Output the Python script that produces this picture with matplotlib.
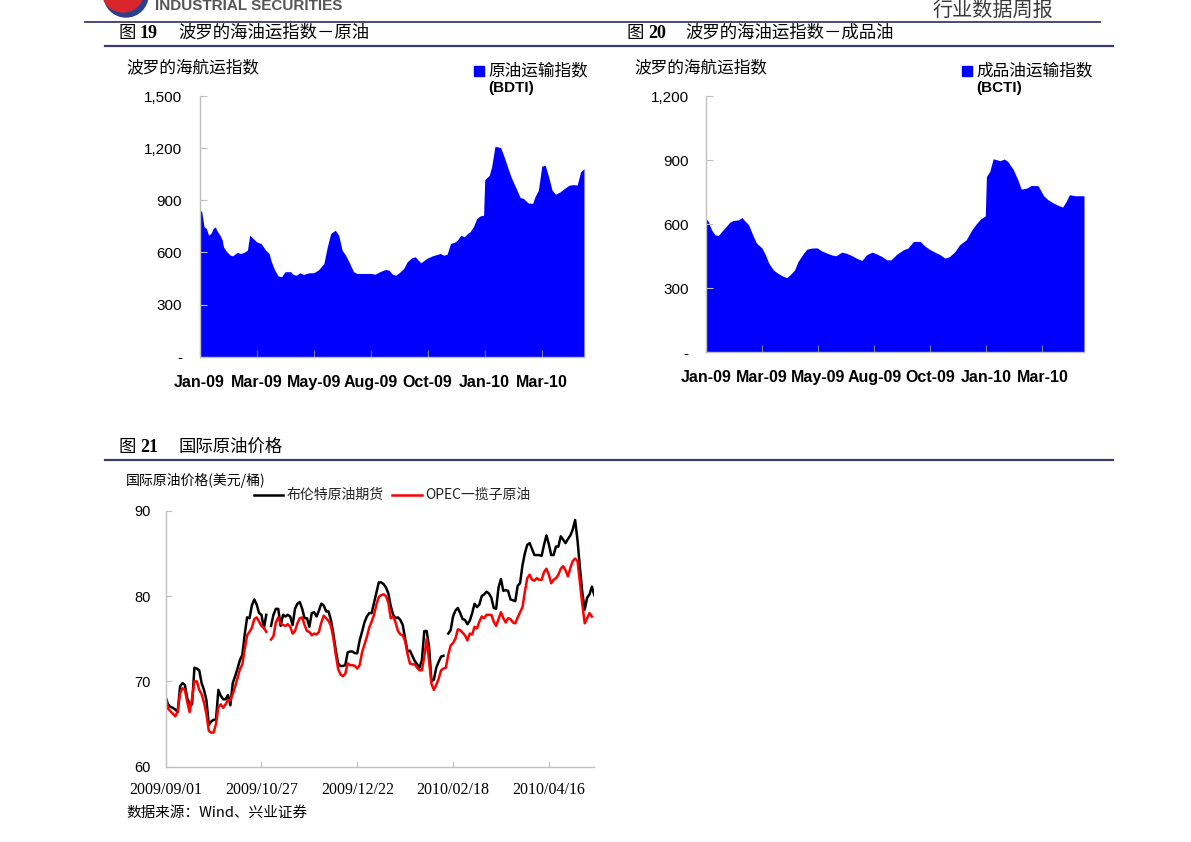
import numpy as np
import matplotlib
matplotlib.use('Agg')
import matplotlib.pyplot as plt
from matplotlib.patches import Circle, Rectangle

# ---------------- data ----------------
# Baltic Dirty Tanker Index (trading-day index from early Jan-2009)
bdti_idx = [0, 2, 4, 6, 8, 10, 12, 14, 15, 18, 20, 21, 24, 27, 29, 33, 36, 39, 42, 44,
            47, 50, 54, 58, 61, 63, 66, 69, 72, 75, 80, 82, 85, 88, 91, 96, 100, 104, 109, 112,
            115, 119, 122, 125, 128, 131, 135, 138, 144, 150, 154, 158, 163, 166, 169, 172, 175, 179, 182, 186,
            189, 194, 196, 199, 204, 208, 211, 214, 217, 220, 223, 226, 229, 232, 235, 237, 240, 243, 246, 249,
            250, 254, 256, 259, 264, 267, 270, 273, 277, 281, 284, 288, 292, 294, 297, 300, 303, 306, 309, 312,
            316, 319, 324, 328, 331, 334, 337]
bdti_val = [852, 833, 747, 738, 699, 709, 738, 747, 728, 699, 670, 632, 603, 584, 580, 600, 594, 600, 613, 699,
            680, 661, 651, 613, 594, 546, 498, 464, 460, 489, 489, 473, 469, 483, 473, 483, 483, 498, 536, 632,
            709, 728, 699, 613, 584, 546, 489, 479, 479, 479, 475, 489, 502, 498, 475, 469, 483, 508, 546, 569,
            575, 540, 550, 565, 580, 588, 594, 584, 590, 651, 657, 670, 699, 690, 709, 718, 747, 795, 810, 814,
            1019, 1044, 1092, 1211, 1203, 1150, 1092, 1035, 977, 916, 910, 885, 882, 920, 958, 1096, 1102, 1035, 958, 935,
            948, 964, 987, 990, 987, 1063, 1082]

# Baltic Clean Tanker Index
bcti_idx = [0, 2, 5, 8, 11, 14, 18, 21, 24, 29, 32, 35, 38, 41, 45, 50, 53, 56, 60, 64,
            69, 72, 75, 79, 82, 87, 90, 94, 99, 103, 108, 112, 116, 121, 125, 130, 134, 139, 143, 148,
            152, 157, 161, 165, 170, 176, 180, 185, 191, 195, 200, 204, 209, 213, 217, 222, 226, 232, 237, 241,
            245, 249, 250, 253, 256, 259, 262, 266, 269, 274, 278, 281, 286, 290, 296, 301, 305, 310, 314, 318,
            321, 324, 329, 333, 337]
bcti_val = [628, 613, 573, 550, 547, 566, 589, 608, 617, 620, 631, 613, 597, 558, 511, 488, 456, 417, 386, 370,
            355, 350, 363, 386, 425, 464, 483, 488, 489, 475, 464, 456, 452, 469, 464, 453, 441, 430, 456, 469,
            461, 448, 433, 433, 459, 480, 488, 519, 519, 498, 480, 469, 456, 441, 448, 472, 503, 527, 573, 602,
            625, 639, 823, 847, 906, 902, 897, 905, 894, 855, 808, 764, 769, 781, 780, 733, 714, 698, 688, 680,
            706, 738, 733, 733, 733]

freight_tick_pos = [0, 50, 100, 150, 200, 250, 300]
freight_tick_lbl = ['Jan-09', 'Mar-09', 'May-09', 'Aug-09', 'Oct-09', 'Jan-10', 'Mar-10']
bdti_yticks = [0, 300, 600, 900, 1200, 1500]
bdti_ylbl = ['-', '300', '600', '900', '1,200', '1,500']
bcti_yticks = [0, 300, 600, 900, 1200]
bcti_ylbl = ['-', '300', '600', '900', '1,200']

nan = np.nan
# Brent futures, one value per trading day from 2009/09/01
brent = [68.1, 67.3, 67.0, 66.9, 66.7, 66.4, 69.4, 69.8, 69.6, 68.0,
         67.4, 67.3, 71.6, 71.5, 71.3, 69.8, 69.0, 67.8, 64.9, 65.3,
         65.5, 65.5, 69.0, 68.3, 67.9, 67.9, 68.4, 67.2, 69.8, 70.6,
         71.5, 72.5, 73.1, 75.5, 77.5, 77.4, 78.9, 79.6, 79.0, 78.0,
         77.8, 76.2, 77.8, nan, 76.5, 77.8, 78.5, 78.5, 76.5, 77.8,
         77.6, 77.8, 77.6, 76.6, 78.5, 79.1, 79.3, 78.5, 77.4, 77.4,
         76.4, 78.0, 78.1, 77.6, 78.3, 79.1, 78.9, 78.2, 78.2, 77.2,
         75.6, 73.7, 72.1, 71.8, 71.8, 71.9, 73.4, 73.5, 73.5, 73.3,
         73.3, 74.8, 75.8, 76.9, 77.6, 78.0, 78.0, 79.2, 80.4, 81.6,
         81.6, 81.4, 81.0, 80.3, 78.8, 77.8, 77.4, 77.5, 77.2, 76.6,
         75.0, 73.5, 73.6, 73.0, 72.4, 72.0, 71.6, 72.5, 75.9, 75.9,
         74.0, 70.0, 70.2, 71.6, 72.3, 72.9, 73.0, nan, 75.6, 76.0,
         77.6, 78.3, 78.6, 78.0, 77.3, 77.2, 76.7, 77.1, 78.0, 79.1,
         78.7, 79.0, 80.0, 80.2, 80.5, 80.3, 79.8, 78.6, 78.5, 81.0,
         82.0, 80.6, 80.7, 80.6, 79.6, 79.5, 79.4, 81.2, 81.5, 83.6,
         85.0, 86.0, 86.2, 85.5, 84.8, 84.8, 84.8, 84.7, 86.0, 87.1,
         86.1, 84.8, 84.8, 85.8, 85.8, 87.0, 86.6, 86.2, 86.7, 87.1,
         87.8, 88.9, 86.5, 83.3, 80.4, 78.4, 79.8, 80.2, 81.1, 80.1]
# OPEC basket
opec = [68.1, 66.8, 66.5, 66.2, 65.9, 66.5, 68.6, 69.2, 69.0, 67.6,
        66.4, 68.0, 70.0, 70.0, 69.0, 68.5, 67.5, 66.2, 64.2, 64.0,
        64.0, 65.0, 67.0, 67.3, 66.9, 67.3, 67.8, 67.8, 68.5, 69.4,
        70.4, 71.4, 72.0, 73.8, 75.4, 75.8, 76.3, 77.3, 77.5, 77.0,
        76.5, 76.3, 75.8, nan, 74.9, 75.3, 76.9, 77.5, 76.8, 76.6,
        76.5, 76.7, 76.4, 75.6, 75.9, 76.8, 77.4, 77.5, 76.6, 75.9,
        75.8, 75.4, 75.6, 75.5, 75.8, 76.9, 77.7, 77.4, 77.1, 76.5,
        75.1, 73.2, 71.5, 70.8, 70.6, 70.9, 72.1, 71.9, 71.9, 71.8,
        71.5, 71.9, 73.4, 74.3, 75.2, 76.3, 77.0, 77.8, 79.0, 79.9,
        80.1, 80.2, 80.0, 79.2, 77.4, 77.6, 76.9, 75.9, 75.5, 75.4,
        74.7, 73.2, 72.1, 72.0, 72.0, 71.6, 71.3, 71.3, 72.9, 75.0,
        72.4, 69.7, 69.0, 69.6, 70.3, 71.3, 71.5, 71.6, 73.1, 74.2,
        74.5, 75.0, 76.1, 76.0, 75.7, 75.4, 74.8, 75.6, 75.5, 76.4,
        76.2, 77.0, 77.6, 77.4, 77.8, 77.8, 77.8, 77.0, 76.5, 77.3,
        78.1, 77.4, 76.9, 77.4, 77.3, 76.9, 76.8, 77.5, 78.1, 78.7,
        80.5, 82.1, 82.5, 81.9, 81.8, 82.1, 81.9, 81.9, 82.8, 83.2,
        82.5, 81.5, 81.9, 82.1, 82.5, 83.2, 83.5, 83.0, 82.3, 83.3,
        84.1, 84.4, 84.1, 81.5, 79.0, 76.8, 77.4, 78.0, 77.6, nan]
oil_tick_pos = [0, 40, 80, 120, 160]
oil_tick_lbl = ['2009/09/01', '2009/10/27', '2009/12/22', '2010/02/18', '2010/04/16']
oil_yticks = [60, 70, 80, 90]

# ---------------- layout helpers ----------------
W, H = 1191, 842
fig = plt.figure(figsize=(W / 100, H / 100), dpi=100)
CJK = ['Noto Sans CJK SC', 'DejaVu Sans']
SANS = ['Liberation Sans', 'DejaVu Sans']
SERIF = ['Liberation Serif', 'DejaVu Serif']
GRID = '#bfbfbf'


def px_axes(x0, y0, x1, y1):
    return fig.add_axes([x0 / W, 1 - y1 / H, (x1 - x0) / W, (y1 - y0) / H])


def freight_axes(ax, idx, val, yt, ylbl, ymax):
    ax.fill_between(idx, 0, val, color='#0000FF', linewidth=0)
    ax.set_xlim(0, 337)
    ax.set_ylim(0, ymax)
    for s in ['top', 'right']:
        ax.spines[s].set_visible(False)
    for s in ['left', 'bottom']:
        ax.spines[s].set_color(GRID)
        ax.spines[s].set_linewidth(1.0)
    ax.set_yticks(yt)
    ax.set_yticklabels(ylbl, fontfamily=SANS, fontsize=11)
    ax.set_xticks(freight_tick_pos)
    ax.set_xticklabels(freight_tick_lbl, fontfamily=SANS, fontsize=11.5, fontweight='bold')
    ax.tick_params(axis='y', direction='in', length=5, color=GRID, pad=12.5)
    ax.tick_params(axis='x', direction='in', length=5, color='#808080', pad=13)
    ax.patch.set_alpha(0)


ax1 = px_axes(199.5, 96, 584, 356.7)
freight_axes(ax1, bdti_idx, bdti_val, bdti_yticks, bdti_ylbl, 1500)
ax2 = px_axes(706, 96, 1084, 352.3)
freight_axes(ax2, bcti_idx, bcti_val, bcti_yticks, bcti_ylbl, 1200)

ax3 = px_axes(165.7, 510.7, 594.3, 766.7)
x = np.arange(len(brent))
ax3.plot(x, brent, color='black', lw=1.8, solid_joinstyle='round')
ax3.plot(x, opec, color='#FF0000', lw=1.8, solid_joinstyle='round')
ax3.set_xlim(0, len(brent) - 1)
ax3.set_ylim(60, 90)
for s in ['top', 'right']:
    ax3.spines[s].set_visible(False)
for s in ['left', 'bottom']:
    ax3.spines[s].set_color(GRID)
    ax3.spines[s].set_linewidth(1.0)
ax3.set_yticks(oil_yticks)
ax3.set_yticklabels([str(v) for v in oil_yticks], fontfamily=SANS, fontsize=10.5)
ax3.set_xticks(oil_tick_pos)
ax3.set_xticklabels(oil_tick_lbl, fontfamily=SERIF, fontsize=11.5)
ax3.tick_params(axis='y', direction='in', length=4, color=GRID, pad=11)
ax3.tick_params(axis='x', direction='in', length=4, color=GRID, pad=11)
ax3.patch.set_alpha(0)

# ---------------- page decorations / texts ----------------
ov = fig.add_axes([0, 0, 1, 1])
ov.set_xlim(0, W)
ov.set_ylim(H, 0)
ov.axis('off')

# logo + header
ov.add_patch(Circle((126, -5), 22, color='#2b3f8f', zorder=1))
ov.add_patch(Circle((123, -9), 21, color='#d8262c', zorder=2))
ov.text(155, 6, 'INDUSTRIAL SECURITIES', fontfamily=SANS, fontweight='bold', fontsize=11,
        color='#555555', ha='left', va='center')
ov.text(932, 10, '行业数据周报', fontfamily=CJK, fontsize=14.5, color='#3a3a3a', ha='left', va='center')
NAVY = '#3b3b6e'
ov.plot([85, 1100], [21.5, 21.5], color=NAVY, lw=1.3)
ov.plot([105, 1113], [46, 46], color=NAVY, lw=1.6)
ov.plot([105, 1113], [460, 460], color=NAVY, lw=1.6)

# figure titles
TS = 12.5
for (xf, xn, xt, y, num, title) in [(118, 140, 178, 33, '19', '波罗的海油运指数－原油'),
                                     (627, 648, 685, 33, '20', '波罗的海油运指数－成品油'),
                                     (118, 140, 178, 447, '21', '国际原油价格')]:
    ov.text(xf, y, '图', fontfamily=CJK, fontsize=TS, ha='left', va='center')
    ov.text(xn, y, num, fontfamily=SERIF, fontweight='bold', fontsize=TS + 0.5, ha='left', va='center')
    ov.text(xt, y, title, fontfamily=CJK, fontsize=TS, ha='left', va='center')

# freight chart titles and legends
for (xl, xs, name, code) in [(126, 473.5, '原油运输指数', '(BDTI)'),
                             (634, 961.5, '成品油运输指数', '(BCTI)')]:
    ov.text(xl, 68, '波罗的海航运指数', fontfamily=CJK, fontsize=12, ha='left', va='center')
    ov.add_patch(Rectangle((xs, 65.5), 10, 10, color='#0000FF'))
    ov.text(xs + 14.5, 71, name, fontfamily=CJK, fontsize=12, ha='left', va='center')
    ov.text(xs + 14.5, 88, code, fontfamily=SANS, fontsize=11, fontweight='bold', ha='left', va='center')

# oil chart title / legend / source
ov.text(126, 480, '国际原油价格(美元/桶)', fontfamily=CJK, fontsize=10, ha='left', va='center')
ov.plot([254, 283], [495, 495], color='black', lw=1.8)
ov.text(287, 495, '布伦特原油期货', fontfamily=CJK, fontsize=10, ha='left', va='center', color='#222222')
ov.plot([392, 422], [495, 495], color='#FF0000', lw=1.8)
ov.text(425, 495, 'OPEC一揽子原油', fontfamily=CJK, fontsize=10, ha='left', va='center', color='#222222')
ov.text(126, 813, '数据来源：Wind、兴业证券', fontfamily=CJK, fontsize=10.5, style='italic',
        ha='left', va='center')

fig.savefig('out.png', dpi=100)
